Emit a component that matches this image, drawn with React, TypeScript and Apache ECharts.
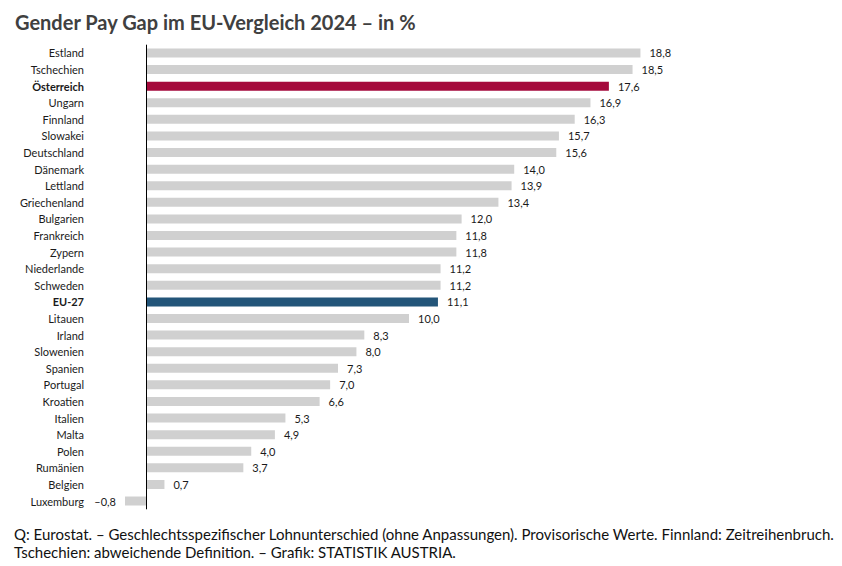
import React, { useEffect, useRef } from "react";
import * as echarts from "echarts";

const categories = [
  "Estland", "Tschechien", "Österreich", "Ungarn", "Finnland", "Slowakei", "Deutschland",
  "Dänemark", "Lettland", "Griechenland", "Bulgarien", "Frankreich", "Zypern", "Niederlande",
  "Schweden", "EU-27", "Litauen", "Irland", "Slowenien", "Spanien", "Portugal", "Kroatien",
  "Italien", "Malta", "Polen", "Rumänien", "Belgien", "Luxemburg",
];
const values = [
  18.8, 18.5, 17.6, 16.9, 16.3, 15.7, 15.6, 14.0, 13.9, 13.4, 12.0, 11.8, 11.8, 11.2,
  11.2, 11.1, 10.0, 8.3, 8.0, 7.3, 7.0, 6.6, 5.3, 4.9, 4.0, 3.7, 0.7, -0.8,
];
const highlight: Record<string, string> = { "Österreich": "#a50a3c", "EU-27": "#235579" };
const titleText = "Gender Pay Gap im EU-Vergleich 2024 – in %";
const footnote1 = "Q: Eurostat. – Geschlechtsspezifischer Lohnunterschied (ohne Anpassungen). Provisorische Werte. Finnland: Zeitreihenbruch.";
const footnote2 = "Tschechien: abweichende Definition. – Grafik: STATISTIK AUSTRIA.";

const FONT = "Lato";

const fmt = (v: number) => (v < 0 ? "–" : "") + Math.abs(v).toFixed(1).replace(".", ",");

export default function App() {
  const ref = useRef<HTMLDivElement>(null);
  useEffect(() => {
    if (!ref.current) return;
    const chart = echarts.init(ref.current, null, { renderer: "svg" });
    chart.setOption({
      animation: false,
      backgroundColor: "#ffffff",
      textStyle: { fontFamily: FONT },
      title: {
        text: titleText,
        left: 10,
        top: 7,
        textStyle: { fontFamily: FONT, fontSize: 20, fontWeight: "bold", color: "#404040" },
      },
      grid: { left: 125, right: 170, top: 44.7, bottom: 566 - 509.3, containLabel: false },
      xAxis: {
        type: "value",
        min: -0.8,
        max: 20,
        show: false,
        splitLine: { show: false },
      },
      yAxis: {
        type: "category",
        inverse: true,
        data: categories,
        axisLine: { show: false },
        axisTick: { show: false },
        axisLabel: {
          margin: 41,
          fontFamily: FONT,
          fontSize: 11,
          color: "#1a1a1a",
          formatter: (v: string) => (highlight[v] ? `{b|${v}}` : v),
          rich: { b: { fontWeight: "bold", fontFamily: FONT, fontSize: 11, color: "#1a1a1a" } },
        },
      },
      series: [
        {
          type: "bar",
          barWidth: 9,
          data: values.map((v, i) => ({
            value: v,
            itemStyle: { color: highlight[categories[i]] || "#d0d0d0" },
            label: { position: v < 0 ? "left" : "right" },
          })),
          label: {
            show: true,
            distance: 9,
            fontFamily: FONT,
            fontSize: 11,
            color: "#1a1a1a",
            formatter: (p: any) => fmt(p.value),
          },
          markLine: {
            silent: true,
            symbol: "none",
            label: { show: false },
            lineStyle: { color: "#000000", type: "solid", width: 1 },
            data: [{ xAxis: 0 }],
          },
        },
      ],
      graphic: [
        {
          type: "text",
          left: 14,
          top: 526,
          style: { text: footnote1, fontFamily: FONT, fontSize: 15, fill: "#111111" },
        },
        {
          type: "text",
          left: 14,
          top: 544,
          style: { text: footnote2, fontFamily: FONT, fontSize: 15, fill: "#111111" },
        },
      ],
    });
    return () => chart.dispose();
  }, []);
  return <div ref={ref} style={{ position: "fixed", left: 0, top: 0, width: 842, height: 566 }} />;
}
